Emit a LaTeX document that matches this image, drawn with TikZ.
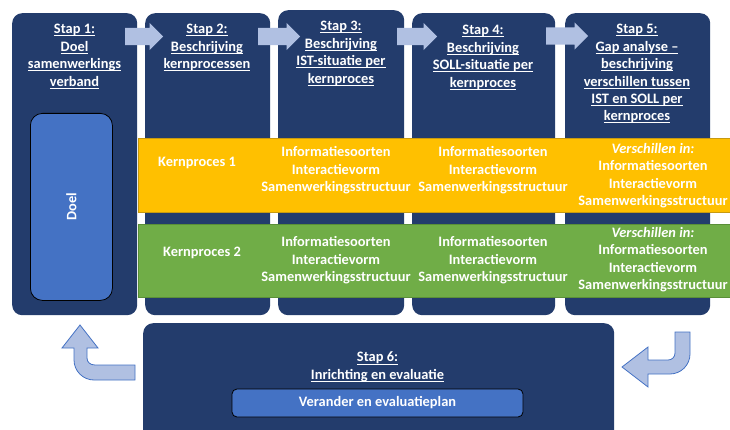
\documentclass[tikz,border=0pt]{standalone}
\usepackage{fontspec}
\setmainfont{Carlito}
\usetikzlibrary{shapes.arrows,calc}
\definecolor{stapblauw}{HTML}{233C6C}
\definecolor{doelblauw}{HTML}{4472C4}
\definecolor{pijlblauw}{HTML}{B0C0E2}
\definecolor{geel}{HTML}{FFC000}
\definecolor{geelrand}{HTML}{C89A10}
\definecolor{groen}{HTML}{70AD47}
\definecolor{groenrand}{HTML}{5A8F38}
\newcommand{\ondst}[1]{\setbox0\hbox{#1}\rlap{\rule[-2.6pt]{\wd0}{1pt}}\smash{\box0}}
\tikzset{stapvak/.style={inner sep=0, anchor=north west, fill=stapblauw, rounded corners=10pt}}
\tikzset{band/.style={inner sep=0, anchor=north west, line width=0.8pt}}
\tikzset{doelvak/.style={inner sep=0, anchor=north west, fill=doelblauw, draw=black, line width=0.8pt, rounded corners=12pt}}
\tikzset{blokpijl/.style={single arrow, anchor=tail, fill=pijlblauw, inner xsep=0, inner ysep=8.5pt, single arrow head extend=5pt, single arrow head indent=0pt}}
\tikzset{bochtpijl/.style={fill=pijlblauw, draw=doelblauw, line width=0.8pt, line join=miter}}
\tikzset{kopje/.style={inner sep=0, anchor=north, align=center, text=white, font=\fontsize{14.4}{17.4}\selectfont\bfseries}}
\tikzset{wit/.style={inner sep=0, align=center, text=white, font=\fontsize{14.4}{17.4}\selectfont\bfseries}}

\begin{document}
\begin{tikzpicture}[x=1pt, y=-1pt]
\useasboundingbox (0,0) rectangle (730,430);
\clip (0,0) rectangle (730,430);
% stappen
\node[stapvak, minimum width=125, minimum height=302] (s1) at (12,13) {};
\node[stapvak, minimum width=125, minimum height=302] (s2) at (145,13) {};
\node[stapvak, minimum width=126, minimum height=305] (s3) at (278,10) {};
\node[stapvak, minimum width=143, minimum height=302] (s4) at (412,13) {};
\node[stapvak, minimum width=145, minimum height=302] (s5) at (565,13) {};
\node[stapvak, minimum width=471, minimum height=130] (s6) at (143,323) {};
% banden
\node[band, fill=geel, draw=geelrand, minimum width=600, minimum height=74] (b1) at (138,138) {};
\node[band, fill=groen, draw=groenrand, minimum width=600, minimum height=73] (b2) at (138,224) {};
\node[doelvak, minimum width=82, minimum height=187] (doel) at (30,113) {};
\node[wit, rotate=90] (doeltxt) at (doel.center) {Doel};
% pijlen
\node[blokpijl, minimum height=38] (p12) at (125,36.5) {};
\node[blokpijl, minimum height=42] (p23) at (258,36.5) {};
\node[blokpijl, minimum height=40] (p34) at (397,36.5) {};
\node[blokpijl, minimum height=42] (p45) at (546,36) {};
% koppen
\node[kopje] (k1) at (74.5,33.7) {\ondst{Stap 1:}\\\ondst{Doel}\\\ondst{samenwerkings}\\\ondst{verband}};
\node[kopje] (k2) at (207,33.7) {\ondst{Stap 2:}\\\ondst{Beschrijving}\\\ondst{kernprocessen}};
\node[kopje] (k3) at (341,30.7) {\ondst{Stap 3:}\\\ondst{Beschrijving}\\\ondst{IST-situatie per}\\\ondst{kernproces}};
\node[kopje] (k4) at (483,34.7) {\ondst{Stap 4:}\\\ondst{Beschrijving}\\\ondst{SOLL-situatie per}\\\ondst{kernproces}};
\node[kopje] (k5) at (637,33.7) {\ondst{Stap 5:}\\\ondst{Gap analyse –}\\\ondst{beschrijving}\\\ondst{verschillen tussen}\\\ondst{IST en SOLL per}\\\ondst{kernproces}};
\node[kopje] (k6) at (377.5,361.7) {\ondst{Stap 6:}\\\ondst{Inrichting en evaluatie}};
% band teksten
\node[wit] (kp1) at (197,163) {Kernproces 1};
\node[wit] (kp2) at (202,253) {Kernproces 2};
\node[wit] (i13) at (336,170.5) {Informatiesoorten\\Interactievorm\\Samenwerkingsstructuur};
\node[wit] (i14) at (493,170.5) {Informatiesoorten\\Interactievorm\\Samenwerkingsstructuur};
\node[wit] (i15) at (653,175.5) {\textit{Verschillen in:}\\Informatiesoorten\\Interactievorm\\Samenwerkingsstructuur};
\node[wit] (i23) at (336,260.5) {Informatiesoorten\\Interactievorm\\Samenwerkingsstructuur};
\node[wit] (i24) at (493,260.5) {Informatiesoorten\\Interactievorm\\Samenwerkingsstructuur};
\node[wit] (i25) at (653,259.5) {\textit{Verschillen in:}\\Informatiesoorten\\Interactievorm\\Samenwerkingsstructuur};
% stap 6
\node[wit, fill=doelblauw, draw=black, line width=0.8pt, rounded corners=5pt, minimum width=291, minimum height=28] (knop) at (377.5,403) {Verander en evaluatieplan};
% terugpijlen
\draw[bochtpijl] (80,325) -- (98,348) -- (87,348) -- (87,358)
  .. controls (87,362) and (90,365) .. (95,365) -- (135,365) -- (135,380) -- (94,380)
  .. controls (83,380) and (74,371) .. (74,360) -- (74,348) -- (62,348) -- cycle;
\draw[bochtpijl] (622,367) -- (648,347) -- (648,360) -- (668,360)
  .. controls (672,360) and (675,357) .. (675,353) -- (675,332) -- (690,332) -- (690,354)
  .. controls (690,365) and (681,374) .. (670,374) -- (648,374) -- (648,387) -- cycle;
\end{tikzpicture}
\end{document}
